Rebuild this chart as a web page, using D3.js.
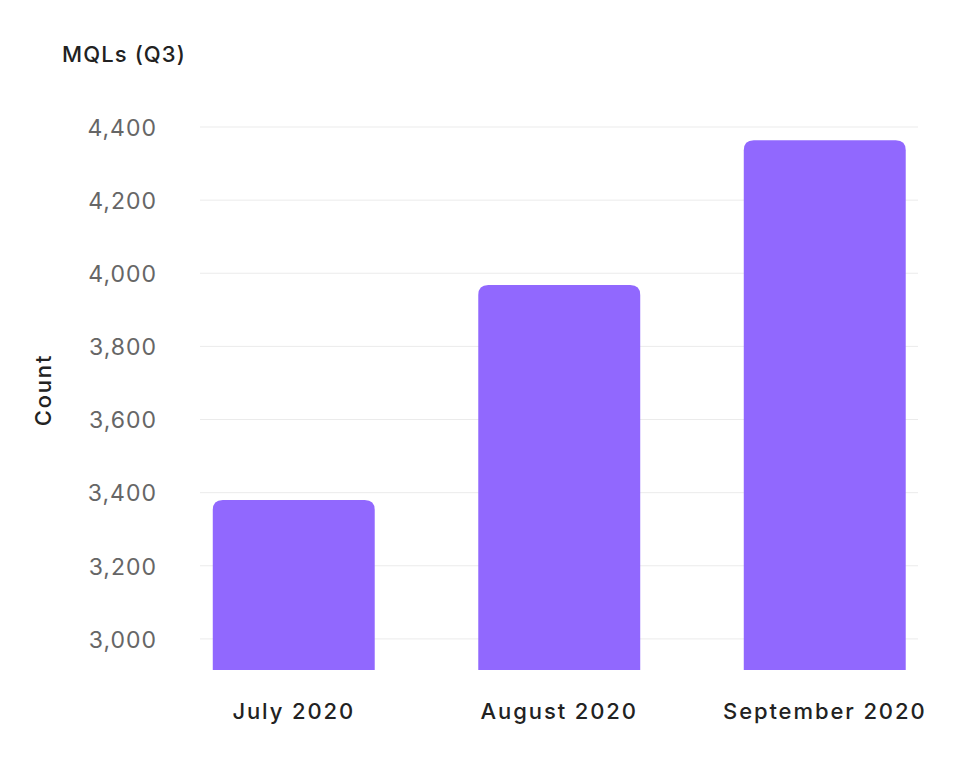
<!DOCTYPE html>
<html>
<head>
<meta charset="utf-8">
<script src="https://cdn.jsdelivr.net/npm/d3@7"></script>
<style>
  body { margin: 0; background: #fff; }
  text { font-family: Inter, "Noto Sans", sans-serif; }
</style>
</head>
<body>
<div id="chart"></div>
<script>
// Данные
const months = ["July 2020", "August 2020", "September 2020"];
const mqls = [3380, 3968, 4364];
const yTickValues = [3000, 3200, 3400, 3600, 3800, 4000, 4200, 4400];

const width = 954;
const height = 767;

const svg = d3.select("#chart").append("svg")
    .attr("width", width)
    .attr("height", height);

// Шкалы
const xScale = d3.scaleBand()
    .domain(months)
    .range([161, 957.5])
    .paddingInner(0.39)
    .paddingOuter(0.195);

const yScale = d3.scaleLinear()
    .domain([2915, 4400])
    .range([670, 127]);

const gridLeft = 200;
const gridRight = 918;

// Сетка
svg.selectAll(".grid")
    .data(yTickValues)
    .enter()
    .append("line")
    .attr("x1", gridLeft)
    .attr("x2", gridRight)
    .attr("y1", d => yScale(d))
    .attr("y2", d => yScale(d))
    .attr("stroke", "#ebebeb")
    .attr("stroke-width", 1);

// Ось Y
const yAxis = svg.append("g")
    .attr("transform", "translate(157,0)")
    .call(d3.axisLeft(yScale).tickValues(yTickValues).tickFormat(d3.format(",")).tickSize(0).tickPadding(0));
yAxis.select(".domain").remove();
yAxis.selectAll("text")
    .attr("dy", "0.36em")
    .style("font-size", "23px")
    .style("font-family", "Inter, sans-serif")
    .style("letter-spacing", "1px")
    .style("fill", "#666");

// Столбцы с закруглением только сверху
const r = 10;
function barPath(x, y, w, h) {
    return `M${x},${y + h} V${y + r} Q${x},${y} ${x + r},${y} H${x + w - r} Q${x + w},${y} ${x + w},${y + r} V${y + h} Z`;
}

svg.selectAll(".bar")
    .data(months)
    .enter()
    .append("path")
    .attr("class", "bar")
    .attr("d", (d, i) => {
        const y = yScale(mqls[i]);
        return barPath(xScale(d), y, xScale.bandwidth(), yScale.range()[0] - y);
    })
    .attr("fill", "#9168fe");

// Ось X
const xAxis = svg.append("g")
    .attr("transform", "translate(0,670)")
    .call(d3.axisBottom(xScale).tickSize(0).tickPadding(0));
xAxis.select(".domain").remove();
xAxis.selectAll("text")
    .attr("y", 49)
    .attr("dy", 0)
    .style("font-size", "22px")
    .style("font-weight", "500")
    .style("font-family", "Inter, sans-serif")
    .style("letter-spacing", "1.9px")
    .style("fill", "#222");

// Заголовок
svg.append("text")
    .attr("x", 62)
    .attr("y", 62)
    .text("MQLs (Q3)")
    .style("font-size", "22px")
    .style("font-weight", "500")
    .style("letter-spacing", "1.1px")
    .style("fill", "#222");

// Подпись оси Y
svg.append("text")
    .attr("transform", "translate(51,390) rotate(-90)")
    .attr("text-anchor", "middle")
    .text("Count")
    .style("font-size", "22px")
    .style("font-weight", "500")
    .style("letter-spacing", "1.8px")
    .style("fill", "#222");
</script>
</body>
</html>
